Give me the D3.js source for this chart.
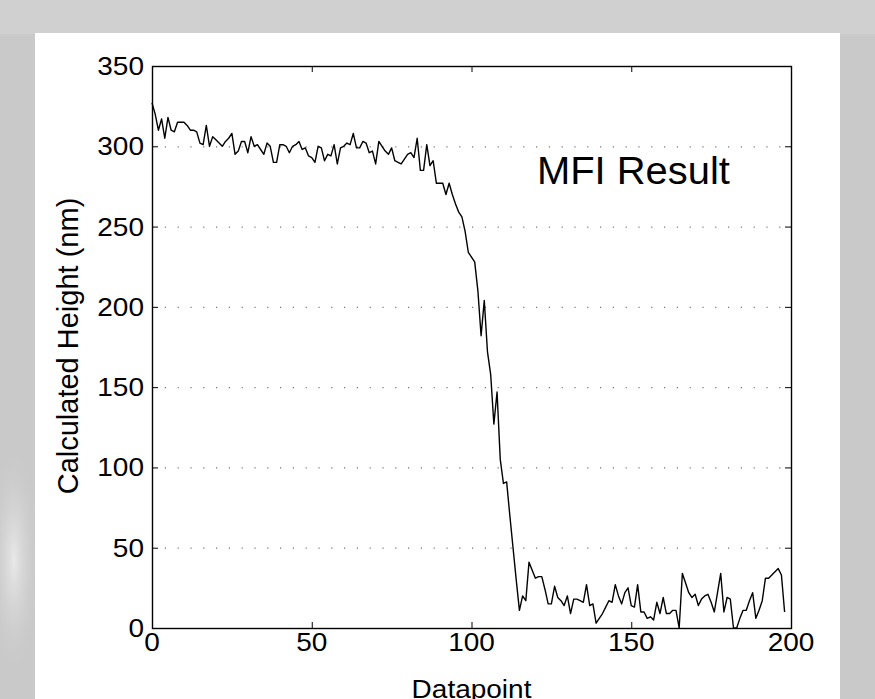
<!DOCTYPE html>
<html>
<head>
<meta charset="utf-8">
<script src="https://cdn.jsdelivr.net/npm/d3@7"></script>
<style>
  html, body { margin: 0; padding: 0; background: #c8c8c8; }
  svg { display: block; }
  text { font-family: "Liberation Sans", Arial, Helvetica, sans-serif; fill: #000; }
</style>
</head>
<body>
<div id="chart"></div>
<script>
// calculated height per datapoint (nm)
const heights = [
  327, 320, 310, 317, 305, 318, 310, 309, 315, 315,
  315, 313, 310, 310, 309, 302, 301, 313, 300, 306,
  304, 302, 300, 303, 305, 308, 295, 297, 303, 303,
  296, 306, 300, 301, 298, 295, 302, 300, 290, 290,
  301, 301, 300, 296, 300, 301, 303, 298, 299, 294,
  293, 290, 300, 299, 291, 295, 294, 301, 289, 299,
  300, 302, 301, 308, 299, 299, 303, 302, 296, 297,
  289, 303, 300, 297, 295, 299, 291, 290, 289, 292,
  295, 296, 293, 305, 285, 285, 301, 288, 291, 277,
  277, 277, 270, 277, 270, 264, 259, 256, 247, 234,
  231, 228, 210, 182, 204, 172, 158, 127, 147, 105,
  90, 91, 70, 50, 30, 11, 20, 17, 41, 36,
  31, 32, 32, 24, 15, 15, 26, 19, 17, 14,
  20, 9, 18, 18, 17, 16, 27, 14, 15, 3,
  6, 9, 13, 17, 16, 27, 20, 15, 22, 25,
  14, 13, 27, 10, 10, 6, 7, 5, 16, 9,
  19, 9, 9, 11, 11, 0, 34, 28, 22, 19,
  21, 14, 18, 20, 21, 16, 10, 22, 34, 10,
  19, 18, 0, 0, 6, 11, 11, 17, 22, 6,
  11, 17, 31, 31, 33, 35, 37, 33, 10
];
const xTicks = [0, 50, 100, 150, 200];
const yTicks = [0, 50, 100, 150, 200, 250, 300, 350];
const xLabel = "Datapoint";
const yLabel = "Calculated Height (nm)";
const title = "MFI Result";

const W = 875, H = 699;
const plot = {left: 152, right: 791, top: 66, bottom: 628};
const widen = 1.12; // the figure was pasted in a little wider than tall

const svg = d3.select("#chart").append("svg")
  .attr("width", W)
  .attr("height", H);

// backdrop: grey slide with a pale smear on the left, then the white panel
const defs = svg.append("defs");
const glow = defs.append("radialGradient").attr("id", "smear");
glow.append("stop").attr("offset", "0%").attr("stop-color", "#ececec").attr("stop-opacity", 0.9);
glow.append("stop").attr("offset", "100%").attr("stop-color", "#c9c9c9").attr("stop-opacity", 0);

svg.append("rect").attr("width", W).attr("height", H).attr("fill", "#c9c9c9");
svg.append("rect").attr("x", 0).attr("y", 0).attr("width", W).attr("height", 34).attr("fill", "#d0d0d0");
svg.append("ellipse").attr("cx", 14).attr("cy", 560).attr("rx", 26).attr("ry", 120).attr("fill", "url(#smear)");
svg.append("rect").attr("x", 35).attr("y", 33).attr("width", 805).attr("height", H - 33).attr("fill", "#fff");

const x = d3.scaleLinear().domain([0, 200]).range([plot.left, plot.right]);
const y = d3.scaleLinear().domain([0, 350]).range([plot.bottom, plot.top]);

// dotted horizontal grid
svg.append("g")
  .selectAll("line")
  .data(yTicks.filter(d => d > 0 && d < 350))
  .enter()
  .append("line")
  .attr("x1", plot.left).attr("x2", plot.right)
  .attr("y1", d => y(d) + 0.5).attr("y2", d => y(d) + 0.5)
  .attr("stroke", "#777")
  .attr("stroke-width", 1.2)
  .attr("stroke-dasharray", "1.2,11.6");

// ticks on all four sides, pointing inward
const tickLen = 6;
const ticks = svg.append("g").attr("stroke", "#000").attr("stroke-width", 1);
xTicks.forEach(d => {
  ticks.append("line").attr("x1", x(d) + 0.5).attr("x2", x(d) + 0.5)
    .attr("y1", plot.bottom).attr("y2", plot.bottom - tickLen);
  ticks.append("line").attr("x1", x(d) + 0.5).attr("x2", x(d) + 0.5)
    .attr("y1", plot.top).attr("y2", plot.top + tickLen);
});
yTicks.forEach(d => {
  ticks.append("line").attr("y1", y(d) + 0.5).attr("y2", y(d) + 0.5)
    .attr("x1", plot.left).attr("x2", plot.left + tickLen);
  ticks.append("line").attr("y1", y(d) + 0.5).attr("y2", y(d) + 0.5)
    .attr("x1", plot.right).attr("x2", plot.right - tickLen);
});

// frame
svg.append("rect")
  .attr("x", plot.left + 0.5).attr("y", plot.top + 0.5)
  .attr("width", plot.right - plot.left).attr("height", plot.bottom - plot.top)
  .attr("fill", "none").attr("stroke", "#000").attr("stroke-width", 1.4);

// tick labels
svg.append("g")
  .selectAll("text")
  .data(xTicks)
  .enter()
  .append("text")
  .attr("transform", d => "translate(" + x(d) + "," + (plot.bottom + 23) + ") scale(" + widen + ",1)")
  .attr("text-anchor", "middle")
  .style("font-size", "25px")
  .text(d => d);

svg.append("g")
  .selectAll("text")
  .data(yTicks)
  .enter()
  .append("text")
  .attr("transform", d => "translate(" + (plot.left - 8) + "," + (y(d) + 9) + ") scale(" + widen + ",1)")
  .attr("text-anchor", "end")
  .style("font-size", "25px")
  .text(d => d);

// axis titles
svg.append("text")
  .attr("transform", "translate(" + ((plot.left + plot.right) / 2) + "," + 698 + ") scale(" + widen + ",1)")
  .attr("text-anchor", "middle")
  .style("font-size", "25px")
  .text(xLabel);

svg.append("text")
  .attr("transform", "translate(78," + ((plot.top + plot.bottom) / 2 - 1) + ") rotate(-90)")
  .attr("text-anchor", "middle")
  .style("font-size", "29px")
  .text(yLabel);

// annotation
svg.append("text")
  .attr("transform", "translate(537,184) scale(1.05,1)")
  .style("font-size", "38px")
  .text(title);

// the profile
const line = d3.line()
  .x((d, i) => x(i))
  .y(d => y(d));

svg.append("path")
  .datum(heights)
  .attr("d", line)
  .attr("fill", "none")
  .attr("stroke", "#000")
  .attr("stroke-width", 1.4)
  .attr("stroke-linejoin", "round");
</script>
</body>
</html>
